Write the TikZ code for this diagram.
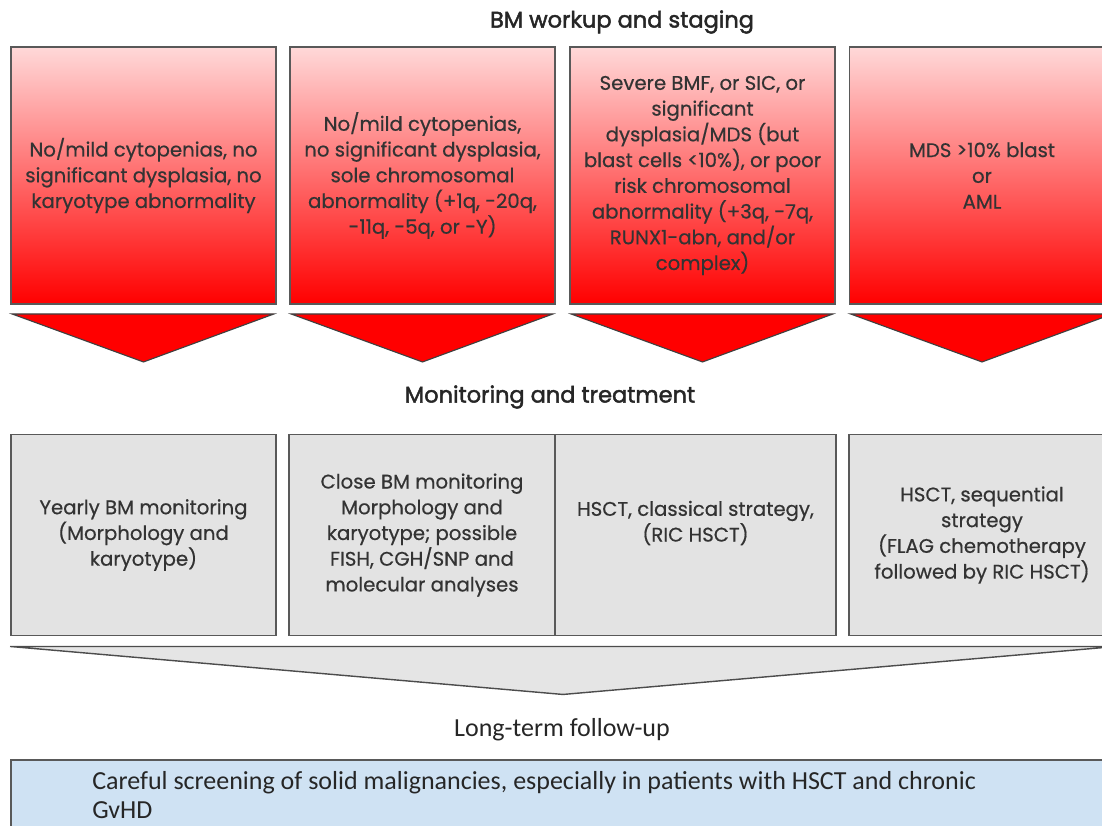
\documentclass[tikz,border=0pt]{standalone}
\usepackage{fontspec}
\setmainfont{Poppins}[FakeBold=0.5]
\newfontfamily\headfont{Poppins}[FakeBold=2]
\newfontfamily\followfont{Carlito}
\usepackage{tikz}
\usetikzlibrary{calc}
\colorlet{boxline}{black!65}
\colorlet{monigray}{black!11}
\colorlet{textgray}{black!80}
\definecolor{followblue}{RGB}{207,226,243}

\begin{document}
\begin{tikzpicture}[x=0.025cm,y=-0.025cm,
  txt/.style={font=\fontsize{14}{18.3}\selectfont,text=textgray,align=center},
  stagebox/.style={txt,draw=boxline,line width=1.3pt,top color=red!15,bottom color=red,minimum width=6.625cm,minimum height=6.425cm},
  monibox/.style={txt,draw=boxline,line width=1.3pt,fill=monigray,minimum height=5.025cm},
  chev/.style={fill=red,draw=black!75,line width=0.8pt},
  head/.style={font=\headfont\fontsize{16}{19}\selectfont,text=black!85}]
\path[use as bounding box,clip] (0,0) rectangle (1102,825);
% BM workup and staging
\node[head] (stagehead) at (622,22) {BM workup and staging};
\node[stagebox] (s1) at (143.5,175.5) {No/mild cytopenias, no\\ significant dysplasia, no\\ karyotype abnormality};
\node[stagebox] (s2) at (422.5,175.5) {No/mild cytopenias,\\ no significant dysplasia,\\ sole chromosomal\\ abnormality (+1q, -20q,\\ -11q, -5q, or -Y)};
\node[stagebox] (s3) at (702.5,175.5) {Severe BMF, or SIC, or\\ significant\\ dysplasia/MDS (but\\ blast cells <10\%), or poor\\ risk chromosomal\\ abnormality (+3q, -7q,\\ RUNX1-abn, and/or\\ complex)};
\node[stagebox] (s4) at (982,175.5) {MDS >10\% blast\\ or\\ AML};
\draw[chev] ($(s1.south west)+(2,9)$) -- ($(s1.south east)+(-3,9)$) -- ($(s1.south)+(0,57)$) -- cycle;
\draw[chev] ($(s2.south west)+(2,9)$) -- ($(s2.south east)+(-3,9)$) -- ($(s2.south)+(0,57)$) -- cycle;
\draw[chev] ($(s3.south west)+(2,9)$) -- ($(s3.south east)+(-3,9)$) -- ($(s3.south)+(0,57)$) -- cycle;
\draw[chev] ($(s4.south west)+(2,9)$) -- ($(s4.south east)+(-3,9)$) -- ($(s4.south)+(0,57)$) -- cycle;
% Monitoring and treatment
\node[head] (monihead) at (550,397) {Monitoring and treatment};
\node[monibox,minimum width=6.625cm] (m1) at (143.5,535) {Yearly BM monitoring\\ (Morphology and\\ karyotype)};
\node[monibox,minimum width=6.65cm] (m2) at (422,535) {Close BM monitoring\\ Morphology and\\ karyotype; possible\\ FISH, CGH/SNP and\\ molecular analyses};
\node[monibox,minimum width=7.025cm] (m3) at (695.5,535) {};
\node[txt] (m3text) at ($(m3.center)+(0,-12)$) {HSCT, classical strategy,\\ (RIC HSCT)};
\node[monibox,minimum width=6.65cm] (m4) at (982,535) {HSCT, sequential\\ strategy\\ (FLAG chemotherapy\\ followed by RIC HSCT)};
\coordinate (tip) at ($($(m1.south west)!0.5!(m4.south east)$)+(0,58)$);
\draw[fill=black!10,draw=black!70,line width=1pt] ($(m1.south west)+(0,10)$) -- ($(m4.south east)+(0,10)$) -- (tip) -- cycle;
% Long-term follow-up
\node[font=\followfont\fontsize{18.5}{22}\selectfont,text=black!85] (followhead) at (562,730) {Long-term follow-up};
\node[draw=boxline,line width=1.3pt,fill=followblue,anchor=north west,minimum width=27.625cm,minimum height=2.5cm] (lt) at (10,759) {};
\node[font=\followfont\fontsize{18.5}{20.5}\selectfont,text=black!85,align=left,anchor=north west,inner sep=0pt] (lttext) at (92,771) {Careful screening of solid malignancies, especially in patients with HSCT and chronic\\ GvHD};
\end{tikzpicture}
\end{document}
